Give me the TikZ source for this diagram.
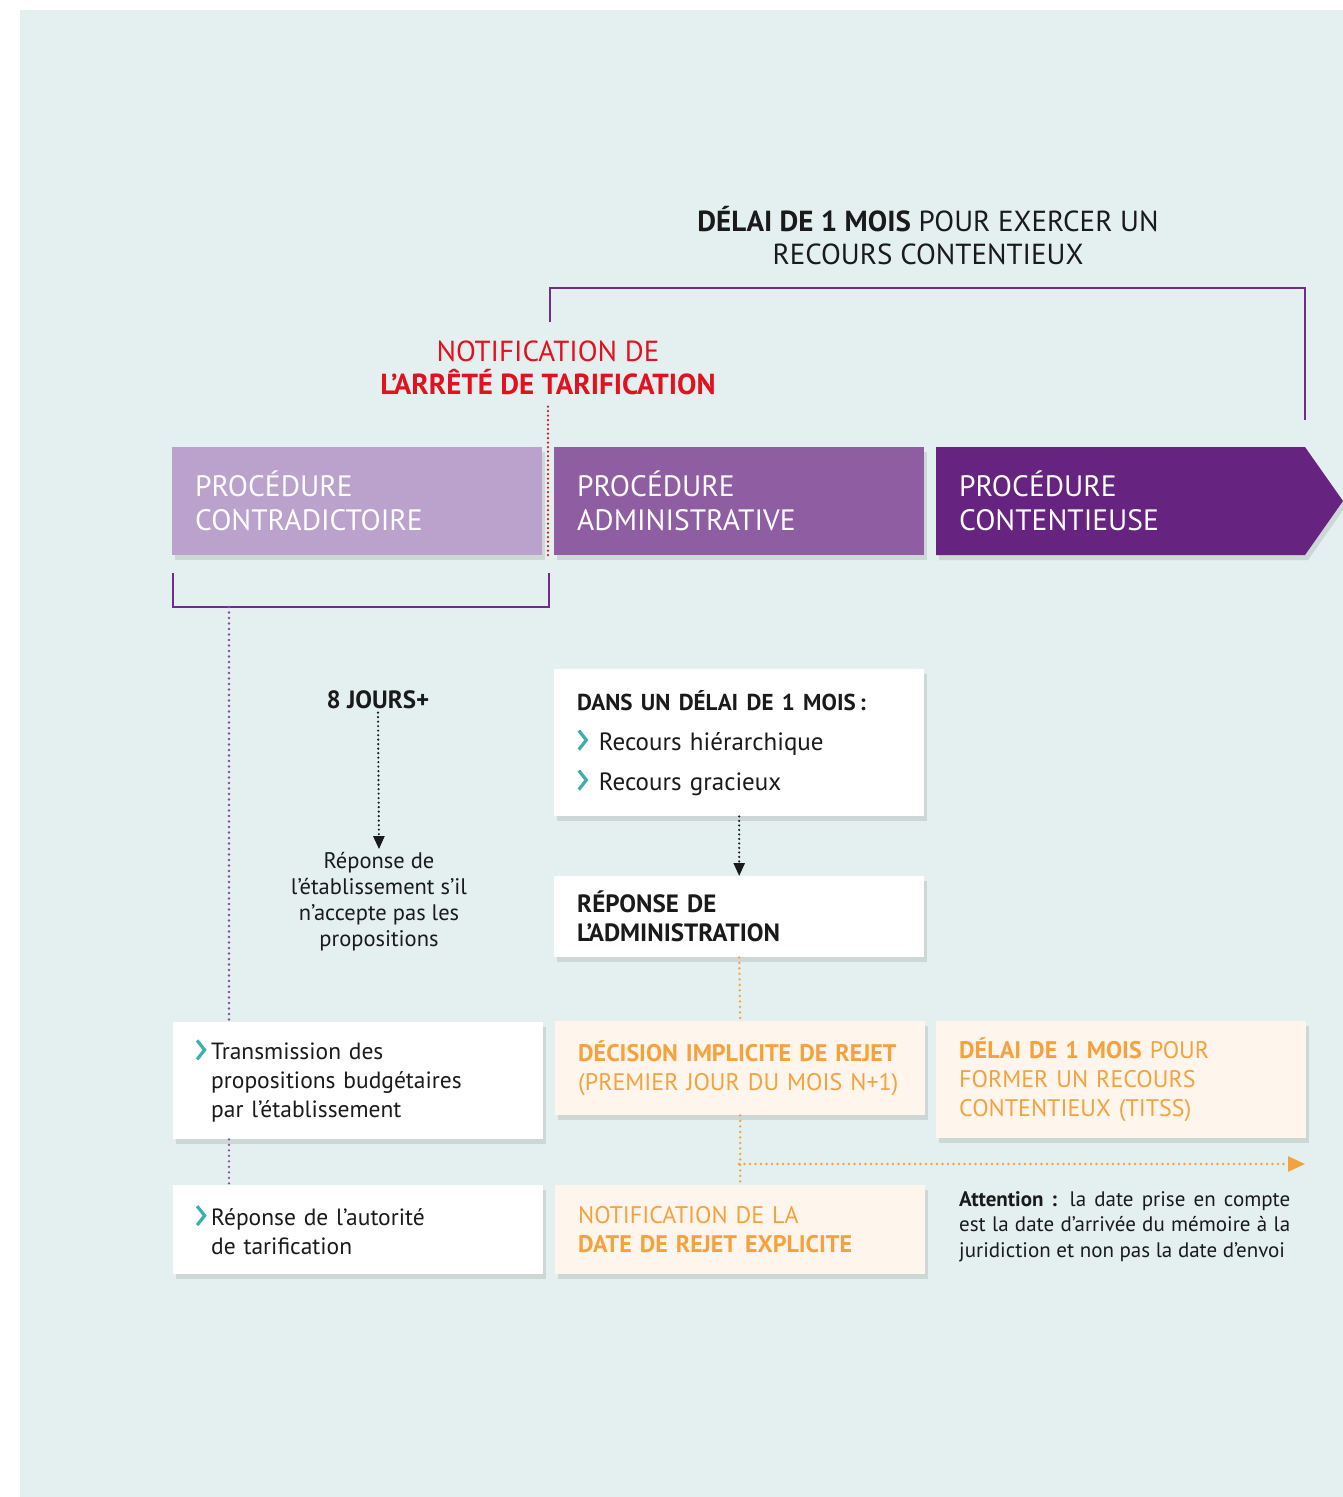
\documentclass[tikz,border=0pt]{standalone}
\usepackage{fontspec}
\setmainfont{PT Sans}
\usetikzlibrary{arrows.meta,positioning,shadows}

\definecolor{bgteal}{HTML}{E3F0EF}
\definecolor{procA}{HTML}{BBA2CC}
\definecolor{procB}{HTML}{8F5DA2}
\definecolor{procC}{HTML}{662380}
\definecolor{bracketcol}{HTML}{6E2C8C}
\definecolor{notifred}{HTML}{E3101E}
\definecolor{orangetxt}{HTML}{F5A23E}
\definecolor{cream}{HTML}{FEF5EC}
\definecolor{chevcol}{HTML}{3BB0AE}
\definecolor{inktxt}{HTML}{1A1A1A}

\newcommand{\chev}{\tikz[baseline=0pt,x=1pt,y=1pt]\draw[chevcol,line width=3.2pt] (0,0.5)--(7.5,10)--(0,19.5);}

\tikzset{
  shade box/.style={drop shadow={opacity=0.22,shadow xshift=3pt,shadow yshift=-5pt}},
  procbox/.style={anchor=north west,minimum width=370pt,minimum height=108pt,text width=324pt,inner xsep=23pt,align=left,text=white,font=\fontsize{29.5}{34}\selectfont},
  whitebox/.style={anchor=north west,fill=white,minimum width=370pt,text width=324pt,inner xsep=23pt,align=left,text=inktxt,shade box},
  creambox/.style={whitebox,fill=cream,text=orangetxt,font=\fontsize{24}{29}\selectfont},
  bracket/.style={bracketcol,line width=2.6pt},
  dots/.style={line width=2.6pt,dash pattern=on 0pt off 5.5pt,line cap=round},
  fine dots/.style={dots,line width=2.4pt,dash pattern=on 0pt off 4.5pt},
}

\begin{document}
\begin{tikzpicture}[x=1pt,y=-1pt]
		\useasboundingbox (0,0) rectangle (1343,1497);
		\fill[bgteal] (20,10) rectangle (1343,1497);

		\node[align=center,text=inktxt,font=\fontsize{29}{33}\selectfont] (title) at (928,236) {\textbf{DÉLAI DE 1 MOIS} POUR EXERCER UN\\RECOURS CONTENTIEUX};
		\node[align=center,text=notifred,font=\fontsize{29}{33}\selectfont] (notif) at (548,368) {NOTIFICATION DE\\\textbf{L’ARRÊTÉ DE TARIFICATION}};

		\node[procbox,fill=procA,shade box] (contra) at (172,447) {PROCÉDURE\\CONTRADICTOIRE};
		\node[procbox,fill=procB,shade box] (admin) at (554,447) {PROCÉDURE\\ADMINISTRATIVE};
		\fill[procC,shade box] (936,447) -- (1305,447) -- (1343,501) -- (1305,555) -- (936,555) -- cycle;
		\node[procbox] (conten) at (936,447) {PROCÉDURE\\CONTENTIEUSE};

		\coordinate (topl) at (550,322);
		\coordinate (topmid) at (928,288);
		\coordinate (topr) at (1305,420);
		\coordinate (lowl) at (173,573);
		\coordinate (lowmid) at (229,607);
		\coordinate (lowr) at (549,573);

		\node[text=inktxt,font=\bfseries\fontsize{25}{28}\selectfont] (jours) at (378,700) {8 JOURS+};
		\node[align=center,text=inktxt,font=\fontsize{22.5}{26}\selectfont] (repetab) at (379,902) {Réponse de\\l’établissement s’il\\n’accepte pas les\\propositions};

		\node[whitebox,minimum height=147pt,font=\fontsize{25}{40}\selectfont] (dans) at (554,669) {{\bfseries\fontsize{23}{28}\selectfont DANS UN DÉLAI DE 1 MOIS\,:}\\\chev\hspace{11pt}Recours hiérarchique\\\chev\hspace{11pt}Recours gracieux};
		\node[whitebox,minimum height=81pt,font=\bfseries\fontsize{25}{29}\selectfont] (repadm) at (554,876) {RÉPONSE DE\\L’ADMINISTRATION};

		\node[whitebox,minimum height=117pt,text width=294pt,inner xsep=38pt,font=\fontsize{23.5}{29}\selectfont] (trans) at (173,1022) {\llap{\chev\hspace{5pt}}Transmission des\\propositions budgétaires\\par l’établissement};
		\node[whitebox,minimum height=89pt,text width=294pt,inner xsep=38pt,font=\fontsize{23.5}{29}\selectfont] (autor) at (173,1185) {\llap{\chev\hspace{5pt}}Réponse de l’autorité\\de tarification};

		\node[creambox,minimum height=94pt] (implicite) at (555,1021) {\textbf{DÉCISION IMPLICITE DE REJET}\\(PREMIER JOUR DU MOIS N+1)};
		\node[creambox,minimum height=117pt] (delai) at (936,1021) {\textbf{DÉLAI DE 1 MOIS} POUR\\FORMER UN RECOURS\\CONTENTIEUX (TITSS)};
		\node[creambox,minimum height=89pt] (explicite) at (555,1185) {NOTIFICATION DE LA\\\textbf{DATE DE REJET EXPLICITE}};
		\node[anchor=north west,text width=331pt,inner sep=0pt,align=justify,text=inktxt,font=\fontsize{21}{25.5}\selectfont] (attention) at (959,1191) {\textbf{Attention :} la date prise en compte\linebreak est la date d’arrivée du mémoire à la\linebreak juridiction et non pas la date d’envoi};

		\coordinate (fork) at (739,1164);
		\coordinate (forkend) at (1305,1164);

		\draw[bracket] (topl) |- (topmid) -| (topr);
		\draw[bracket] (lowl) |- (lowmid) -| (lowr);
		\draw[fine dots,notifred,shorten <=8pt] (notif.south) -- (notif.south |- contra.south);
		\draw[dots,bracketcol!85] (lowmid) -- (lowmid |- trans.north);
		\draw[dots,bracketcol!85] (lowmid |- trans.south) -- (lowmid |- autor.north);
		\draw[fine dots,inktxt,-{Triangle[length=13pt,width=11pt]}] (jours.south) -- (repetab.north);
		\draw[fine dots,inktxt,-{Triangle[length=13pt,width=11pt]}] (dans.south) -- (repadm.north);
		\draw[dots,orangetxt] (repadm.south) -- (implicite.north);
		\draw[dots,orangetxt] (implicite.south) -- (explicite.north);
		\draw[dots,orangetxt,-{Triangle[length=17pt,width=15pt]}] (fork) -- (forkend);
\end{tikzpicture}
\end{document}
